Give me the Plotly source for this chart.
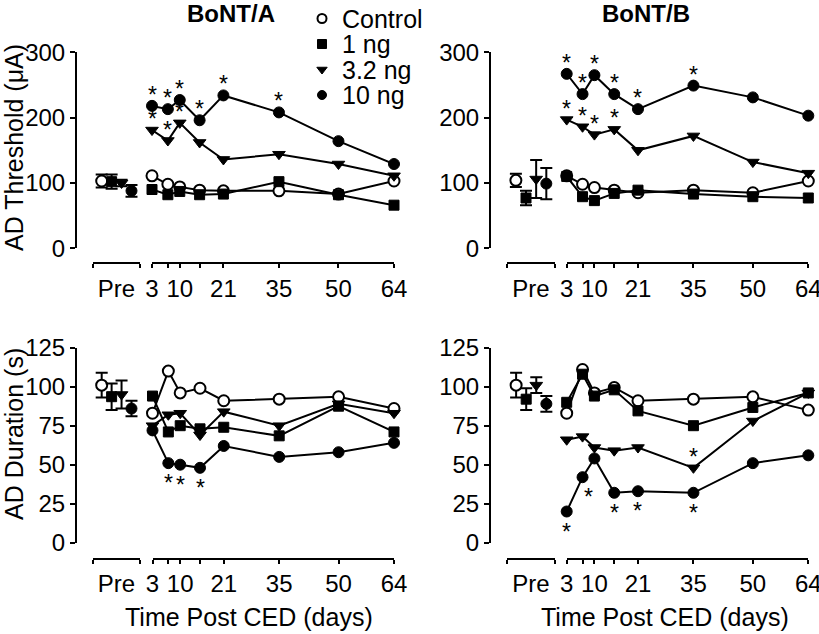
import plotly.graph_objects as go

W, H = 819, 634

# ---------------- data ----------------
days = [3, 7, 10, 15, 21, 35, 50, 64]
day_ticks = [3, 7, 10, 15, 21, 35, 50, 64]
day_tick_labels = ["3", "", "10", "", "21", "35", "50", "64"]
groups = ["Control", "1 ng", "3.2 ng", "10 ng"]
pre_slots = [0.19, 0.40, 0.61, 0.82]

# BoNT/A - AD threshold (uA)
a_thr_control = [111, 98, 94, 89, 88, 88, 83, 103]
a_thr_1ng = [90, 82, 87, 82, 83, 102, 82, 66]
a_thr_3ng = [181, 165, 192, 162, 136, 144, 129, 111]
a_thr_10ng = [218, 213, 227, 196, 234, 208, 164, 129]
a_thr_pre = [103, 102, 100, 88]
a_thr_pre_sem = [10, 11, 5, 9]

# BoNT/B - AD threshold (uA)
b_thr_control = [111, 98, 93, 89, 85, 89, 85, 103]
b_thr_1ng = [110, 79, 73, 84, 89, 83, 79, 77]
b_thr_3ng = [197, 186, 174, 182, 150, 172, 132, 115]
b_thr_10ng = [267, 236, 265, 236, 213, 249, 231, 203]
b_thr_pre = [104, 77, 106, 99]
b_thr_pre_sem = [10, 11, 29, 24]

# BoNT/A - AD duration (s)
a_dur_control = [83, 110, 96, 99, 91, 92, 93.5, 86]
a_dur_1ng = [94, 71, 75, 73, 74, 68.5, 87.5, 71]
a_dur_3ng = [75, 82, 83, 69, 84, 75, 89, 83]
a_dur_10ng = [72, 51, 50, 48, 62, 55, 58, 64]
a_dur_pre = [101, 93.6, 95, 86]
a_dur_pre_sem = [8, 8.5, 9, 5]

# BoNT/B - AD duration (s)
b_dur_control = [83, 111, 96, 99.5, 91, 92, 93.5, 85]
b_dur_1ng = [90, 108, 94, 98, 84.5, 75, 86.7, 96]
b_dur_3ng = [66, 68, 61, 59, 61, 48, 78, 96]
b_dur_10ng = [20, 42, 54, 32, 33, 32, 51, 56]
b_dur_pre = [101, 92, 101, 89]
b_dur_pre_sem = [8, 7, 5, 5]

# significance stars: (group, day index, +1 above / -1 below)
a_thr_stars = [("10 ng", i, 1) for i in range(6)] + [("3.2 ng", i, 1) for i in range(3)]
b_thr_stars = [("10 ng", i, 1) for i in range(6)] + [("3.2 ng", i, 1) for i in range(4)]
a_dur_stars = [("10 ng", 1, -1), ("10 ng", 2, -1), ("10 ng", 3, -1)]
b_dur_stars = [("10 ng", 0, -1), ("10 ng", 1, -1), ("10 ng", 3, -1), ("10 ng", 4, -1),
               ("10 ng", 5, -1), ("3.2 ng", 5, 1)]

thr_ticks = [0, 100, 200, 300]
dur_ticks = [0, 25, 50, 75, 100, 125]

# ---------------- styles / layout geometry (pixels) ----------------
FONT = "Liberation Sans, Arial, Helvetica, sans-serif"
styles = {
    "Control": dict(symbol="circle", size=11, color="white", line=dict(color="black", width=2)),
    "1 ng": dict(symbol="square", size=10, color="black", line=dict(color="black", width=1)),
    "3.2 ng": dict(symbol="triangle-down", size=11, color="black", line=dict(color="black", width=1)),
    "10 ng": dict(symbol="circle", size=11, color="black", line=dict(color="black", width=1)),
}

panels = [
    dict(title="BoNT/A", series=[a_thr_control, a_thr_1ng, a_thr_3ng, a_thr_10ng],
         pre=a_thr_pre, sem=a_thr_pre_sem, stars=a_thr_stars, yr=[0, 300], yt=thr_ticks,
         yx=76, ybot=248.3, ytop=52.3, xline=263, pre_px=(92.7, 140), main_px=(152, 394)),
    dict(title="BoNT/B", series=[b_thr_control, b_thr_1ng, b_thr_3ng, b_thr_10ng],
         pre=b_thr_pre, sem=b_thr_pre_sem, stars=b_thr_stars, yr=[0, 300], yt=thr_ticks,
         yx=490, ybot=248.3, ytop=52.3, xline=263, pre_px=(506.7, 555), main_px=(566.7, 808.3)),
    dict(title=None, series=[a_dur_control, a_dur_1ng, a_dur_3ng, a_dur_10ng],
         pre=a_dur_pre, sem=a_dur_pre_sem, stars=a_dur_stars, yr=[0, 125], yt=dur_ticks,
         yx=76, ybot=542.7, ytop=347.7, xline=558.5, pre_px=(92.7, 140), main_px=(152.5, 394)),
    dict(title=None, series=[b_dur_control, b_dur_1ng, b_dur_3ng, b_dur_10ng],
         pre=b_dur_pre, sem=b_dur_pre_sem, stars=b_dur_stars, yr=[0, 125], yt=dur_ticks,
         yx=490, ybot=542.7, ytop=347.7, xline=558.5, pre_px=(507, 555), main_px=(566.7, 808.3)),
]

def px_x(v):
    return v / W

def px_y(v):
    return 1 - v / H

fig = go.Figure()
layout = {}
annotations = []

axis_common = dict(showline=True, linecolor="black", linewidth=2, showgrid=False,
                   zeroline=False, ticks="outside", ticklen=4, tickwidth=2,
                   tickcolor="black", tickfont=dict(size=24, family=FONT, color="black"),
                   automargin=False, fixedrange=True, ticklabeloverflow="allow")

for p, pn in enumerate(panels):
    yname = "y%d" % (p + 1)
    xpre = "x%d" % (2 * p + 1)
    xmain = "x%d" % (2 * p + 2)
    layout["yaxis%d" % (p + 1)] = dict(
        axis_common, domain=[px_y(pn["ybot"]), px_y(pn["ytop"])], range=pn["yr"],
        anchor="free", position=px_x(pn["yx"]), tickvals=pn["yt"], ticklen=5)
    layout["xaxis%d" % (2 * p + 1)] = dict(
        axis_common, domain=[px_x(pn["pre_px"][0]), px_x(pn["pre_px"][1])], range=[0, 1],
        anchor="free", position=px_y(pn["xline"]), tickvals=[0.5], ticktext=["Pre"],
        tickcolor="rgba(0,0,0,0)",
        minor=dict(tickmode="array", tickvals=[0, 1], ticks="outside", ticklen=4,
                   tickwidth=2, tickcolor="black", showgrid=False))
    layout["xaxis%d" % (2 * p + 2)] = dict(
        axis_common, domain=[px_x(pn["main_px"][0]), px_x(pn["main_px"][1])], range=[3, 64],
        anchor="free", position=px_y(pn["xline"]), tickvals=day_ticks, ticktext=day_tick_labels)

    for g, vals in zip(groups, pn["series"]):
        fig.add_trace(go.Scatter(
            x=days, y=vals, mode="lines+markers", xaxis=xmain, yaxis=yname,
            line=dict(color="black", width=2), marker=styles[g], cliponaxis=False,
            showlegend=False, name=g))
    for i, g in enumerate(groups):
        fig.add_trace(go.Scatter(
            x=[pre_slots[i]], y=[pn["pre"][i]], mode="markers", xaxis=xpre, yaxis=yname,
            marker=styles[g], cliponaxis=False, showlegend=False, name=g,
            error_y=dict(type="data", array=[pn["sem"][i]], color="black", thickness=2, width=6)))

    for g, idx, d in pn["stars"]:
        vals = pn["series"][groups.index(g)]
        annotations.append(dict(
            x=days[idx], y=vals[idx], xref=xmain, yref=yname, text="*", showarrow=False,
            xanchor="center", yanchor="middle",
            font=dict(size=23, family=FONT, color="black"),
            yshift=11 if d > 0 else -20,
            xshift=6 if (p == 3 and idx == 1) else 0))

    if pn["title"]:
        cx = (pn["pre_px"][0] + pn["main_px"][1]) / 2
        annotations.append(dict(
            x=px_x(cx - 12), y=px_y(14), xref="paper", yref="paper",
            text="<b>%s</b>" % pn["title"], showarrow=False,
            font=dict(size=24, family=FONT, color="black"), xanchor="center", yanchor="middle"))

# y-axis titles
annotations.append(dict(x=px_x(14), y=px_y(148), xref="paper", yref="paper",
                        text="AD Threshold (μA)", textangle=-90, showarrow=False,
                        xanchor="center", yanchor="middle",
                        font=dict(size=25, family=FONT, color="black")))
annotations.append(dict(x=px_x(14), y=px_y(434), xref="paper", yref="paper",
                        text="AD Duration (s)", textangle=-90, showarrow=False,
                        xanchor="center", yanchor="middle",
                        font=dict(size=25, family=FONT, color="black")))
# x-axis titles
for cx in (249, 665):
    annotations.append(dict(x=px_x(cx), y=px_y(617), xref="paper", yref="paper",
                            text="Time Post CED (days)", showarrow=False,
                            xanchor="center", yanchor="middle",
                            font=dict(size=25, family=FONT, color="black")))

# manual legend on a hidden pixel-space axis
LEG_X, LEG_Y0, LEG_DY = 322, 18.5, 25.5
layout["xaxis9"] = dict(domain=[0, 1], range=[0, W], visible=False, fixedrange=True, anchor="y9")
layout["yaxis9"] = dict(domain=[0, 1], range=[H, 0], visible=False, fixedrange=True, anchor="x9")
for i, g in enumerate(groups):
    st = dict(styles[g])
    st["size"] = 9
    fig.add_trace(go.Scatter(x=[LEG_X], y=[LEG_Y0 + i * LEG_DY], mode="markers",
                             xaxis="x9", yaxis="y9", marker=st, showlegend=False,
                             cliponaxis=False, name=g))
    annotations.append(dict(x=LEG_X + 18, y=LEG_Y0 + i * LEG_DY, xref="x9", yref="y9",
                            text=g, showarrow=False, xanchor="left", yanchor="middle",
                            font=dict(size=25, family=FONT, color="black")))

fig.update_layout(
    width=W, height=H, margin=dict(l=0, r=0, t=0, b=0),
    paper_bgcolor="white", plot_bgcolor="rgba(0,0,0,0)",
    showlegend=False, annotations=annotations,
    font=dict(family=FONT, color="black"),
    **layout)

fig.write_html("out.html", config={"displayModeBar": False},
               post_script="document.body.style.margin='0';document.body.style.overflow='hidden';")
